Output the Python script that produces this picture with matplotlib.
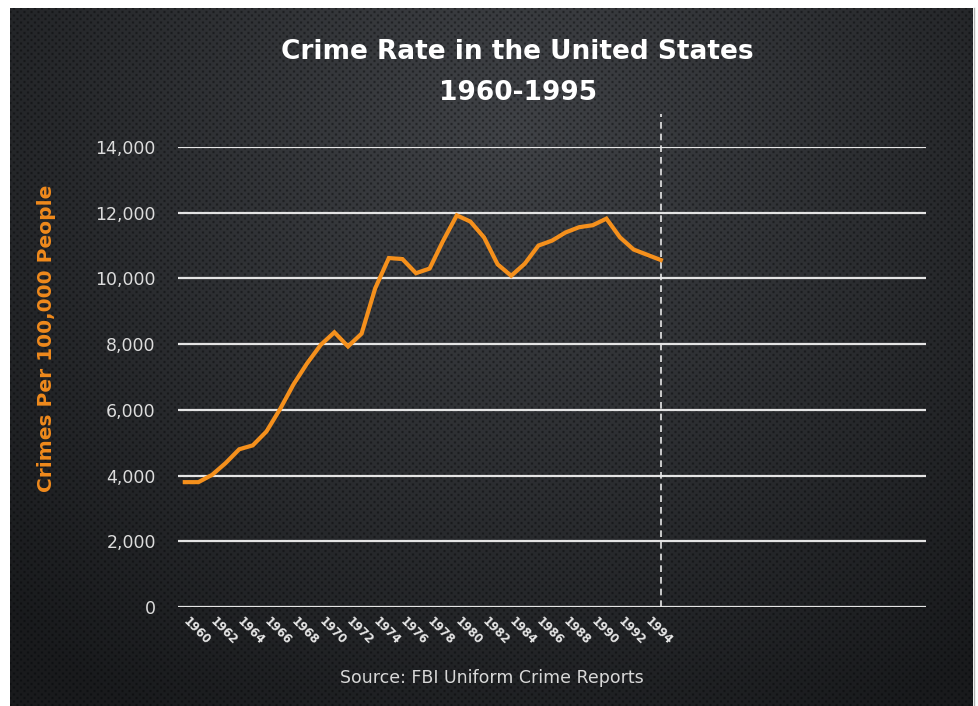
import numpy as np
import matplotlib
matplotlib.use("Agg")
import matplotlib.pyplot as plt

# ---- data ----
years = list(range(1960, 1996))
crime_rate = [3800, 3800, 4020, 4380, 4800, 4920, 5340, 6020, 6780, 7420,
              7980, 8360, 7930, 8320, 9700, 10620, 10590, 10160, 10300, 11150,
              11920, 11730, 11250, 10430, 10080, 10450, 11000, 11150, 11400, 11560,
              11620, 11820, 11250, 10880, 10720, 10560]
tick_years = list(range(1960, 1995, 2))
y_ticks = [0, 2000, 4000, 6000, 8000, 10000, 12000, 14000]
n_categories = 55  # category axis extends beyond the data

W, H = 979, 706
fig = plt.figure(figsize=(W / 100, H / 100), dpi=100, facecolor="white")

# ---- textured dark background ----
bx0, bx1, by0, by1 = 10, 973, 8, 706
bw, bh = bx1 - bx0, by1 - by0
yy, xx = np.mgrid[0:bh, 0:bw]
cx, cy = bw * 0.52, bh * 0.18
d = np.sqrt(((xx - cx) / (bw * 0.75)) ** 2 + ((yy - cy) / (bh * 1.0)) ** 2)
base = np.clip(64 - 40 * d, 25, 64)
P = 7.0
pat = np.cos(2 * np.pi * xx / P) * np.cos(2 * np.pi * yy / P)
dots = np.clip(-pat, 0, 1) ** 1.3
val = base * (1 - 0.45 * dots)
img = np.stack([val, val * 1.02 + 1, val * 1.07 + 2], axis=-1)
img = np.clip(img, 0, 255) / 255.0
bg = fig.add_axes([bx0 / W, 1 - by1 / H, bw / W, bh / H])
bg.imshow(img, aspect="auto", interpolation="nearest")
bg.axis("off")
fig.add_artist(plt.Line2D([974 / W, 974 / W], [0, 1 - by0 / H], color="#b0b0b0", lw=1))

# ---- main axes ----
left, right, top, bottom = 178, 926, 147, 607
ax = fig.add_axes([left / W, 1 - bottom / H, (right - left) / W, (bottom - top) / H])
ax.set_facecolor("none")
for s in ax.spines.values():
    s.set_visible(False)

x_idx = [y - 1960 for y in years]
ax.set_xlim(-0.5, n_categories - 0.5)
ax.set_ylim(0, 14000)
ax.set_yticks(y_ticks)
ax.set_yticklabels([f"{v:,}" for v in y_ticks], color="#dcdcdc", fontsize=12.5)
ax.yaxis.grid(True, color="#e4e4e4", lw=1.6)
ax.set_axisbelow(True)
ax.tick_params(axis="y", length=0, pad=16)
ax.set_xticks([y - 1960 for y in tick_years])
ax.set_xticklabels([str(y) for y in tick_years], rotation=-45, rotation_mode="anchor",
                   ha="left", va="center", color="#e6e6e6", fontsize=8.5, fontweight="bold")
ax.tick_params(axis="x", length=0, pad=9)

ax.plot(x_idx, crime_rate, color="#F5901C", lw=3.0, solid_joinstyle="miter", zorder=3)
ax.plot([x_idx[-1], x_idx[-1]], [0, 15000], color="#e8e8e8", lw=1.2,
        ls=(0, (4, 3)), clip_on=False, zorder=2)

# ---- text ----
fig.text(517 / W, 1 - 52 / H, "Crime Rate in the United States", ha="center", va="center",
         color="white", fontsize=19, fontweight="bold")
fig.text(518 / W, 1 - 93 / H, "1960-1995", ha="center", va="center",
         color="white", fontsize=19, fontweight="bold")
fig.text(47 / W, 1 - 338 / H, "Crimes Per 100,000 People", rotation=90, ha="center",
         va="center", color="#F08A1C", fontsize=14.5, fontweight="bold")
fig.text(492 / W, 1 - 678 / H, "Source: FBI Uniform Crime Reports", ha="center", va="center",
         color="#d8d8d8", fontsize=12.5)

fig.savefig("out.png", dpi=100, facecolor="white")
